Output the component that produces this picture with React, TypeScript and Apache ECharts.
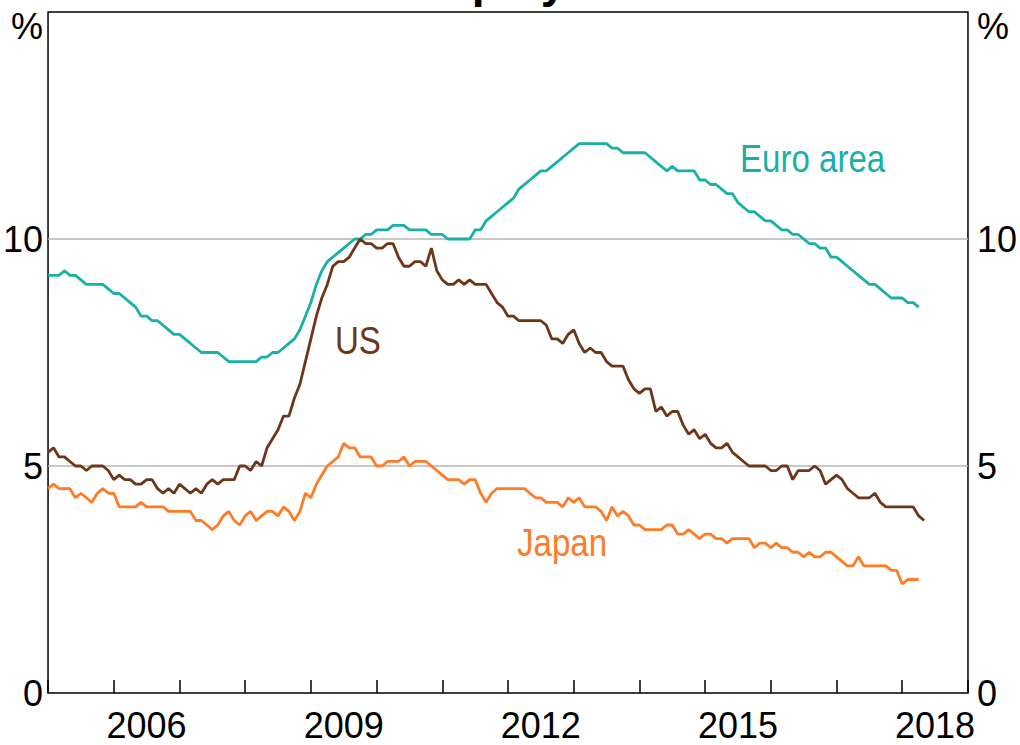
import React, { useEffect, useRef } from 'react';
import * as echarts from 'echarts';

// Monthly data, first observation January 2005
const START_YEAR = 2005;

const euroArea = [
  9.2, 9.2, 9.2, 9.3, 9.2, 9.2, 9.1, 9.0, 9.0, 9.0, 9.0, 8.9,
  8.8, 8.8, 8.7, 8.6, 8.5, 8.3, 8.3, 8.2, 8.2, 8.1, 8.0, 7.9,
  7.9, 7.8, 7.7, 7.6, 7.5, 7.5, 7.5, 7.5, 7.4, 7.3, 7.3, 7.3,
  7.3, 7.3, 7.3, 7.4, 7.4, 7.5, 7.5, 7.6, 7.7, 7.8, 8.0, 8.3,
  8.6, 9.0, 9.3, 9.5, 9.6, 9.7, 9.8, 9.9, 10.0, 10.0, 10.1, 10.1,
  10.2, 10.2, 10.2, 10.3, 10.3, 10.3, 10.2, 10.2, 10.2, 10.2, 10.1, 10.1,
  10.1, 10.0, 10.0, 10.0, 10.0, 10.0, 10.2, 10.2, 10.4, 10.5, 10.6, 10.7,
  10.8, 10.9, 11.1, 11.2, 11.3, 11.4, 11.5, 11.5, 11.6, 11.7, 11.8, 11.9,
  12.0, 12.1, 12.1, 12.1, 12.1, 12.1, 12.1, 12.0, 12.0, 11.9, 11.9, 11.9,
  11.9, 11.9, 11.8, 11.7, 11.6, 11.5, 11.6, 11.5, 11.5, 11.5, 11.5, 11.3,
  11.3, 11.2, 11.2, 11.1, 11.0, 11.0, 10.8, 10.7, 10.6, 10.6, 10.5, 10.4,
  10.4, 10.3, 10.2, 10.2, 10.1, 10.1, 10.0, 9.9, 9.9, 9.8, 9.8, 9.6,
  9.6, 9.5, 9.4, 9.3, 9.2, 9.1, 9.0, 9.0, 8.9, 8.8, 8.7, 8.7,
  8.7, 8.6, 8.6, 8.5,
];

const us = [
  5.3, 5.4, 5.2, 5.2, 5.1, 5.0, 5.0, 4.9, 5.0, 5.0, 5.0, 4.9,
  4.7, 4.8, 4.7, 4.7, 4.6, 4.6, 4.7, 4.7, 4.5, 4.4, 4.5, 4.4,
  4.6, 4.5, 4.4, 4.5, 4.4, 4.6, 4.7, 4.6, 4.7, 4.7, 4.7, 5.0,
  5.0, 4.9, 5.1, 5.0, 5.4, 5.6, 5.8, 6.1, 6.1, 6.5, 6.8, 7.3,
  7.8, 8.3, 8.7, 9.0, 9.4, 9.5, 9.5, 9.6, 9.8, 10.0, 9.9, 9.9,
  9.8, 9.8, 9.9, 9.9, 9.6, 9.4, 9.4, 9.5, 9.5, 9.4, 9.8, 9.3,
  9.1, 9.0, 9.0, 9.1, 9.0, 9.1, 9.0, 9.0, 9.0, 8.8, 8.6, 8.5,
  8.3, 8.3, 8.2, 8.2, 8.2, 8.2, 8.2, 8.1, 7.8, 7.8, 7.7, 7.9,
  8.0, 7.7, 7.5, 7.6, 7.5, 7.5, 7.3, 7.2, 7.2, 7.2, 6.9, 6.7,
  6.6, 6.7, 6.7, 6.2, 6.3, 6.1, 6.2, 6.2, 5.9, 5.7, 5.8, 5.6,
  5.7, 5.5, 5.4, 5.4, 5.5, 5.3, 5.2, 5.1, 5.0, 5.0, 5.0, 5.0,
  4.9, 4.9, 5.0, 5.0, 4.7, 4.9, 4.9, 4.9, 5.0, 4.9, 4.6, 4.7,
  4.8, 4.7, 4.5, 4.4, 4.3, 4.3, 4.3, 4.4, 4.2, 4.1, 4.1, 4.1,
  4.1, 4.1, 4.1, 3.9, 3.8,
];

const japan = [
  4.5, 4.6, 4.5, 4.5, 4.5, 4.3, 4.4, 4.3, 4.2, 4.4, 4.5, 4.4,
  4.4, 4.1, 4.1, 4.1, 4.1, 4.2, 4.1, 4.1, 4.1, 4.1, 4.0, 4.0,
  4.0, 4.0, 4.0, 3.8, 3.8, 3.7, 3.6, 3.7, 3.9, 4.0, 3.8, 3.7,
  3.9, 4.0, 3.8, 3.9, 4.0, 4.0, 3.9, 4.1, 4.0, 3.8, 4.0, 4.4,
  4.3, 4.6, 4.8, 5.0, 5.1, 5.2, 5.5, 5.4, 5.4, 5.2, 5.2, 5.2,
  5.0, 5.0, 5.1, 5.1, 5.1, 5.2, 5.0, 5.1, 5.1, 5.1, 5.0, 4.9,
  4.8, 4.7, 4.7, 4.7, 4.6, 4.7, 4.7, 4.4, 4.2, 4.4, 4.5, 4.5,
  4.5, 4.5, 4.5, 4.5, 4.4, 4.3, 4.3, 4.2, 4.2, 4.2, 4.1, 4.3,
  4.2, 4.3, 4.1, 4.1, 4.1, 4.0, 3.8, 4.1, 3.9, 4.0, 3.9, 3.7,
  3.7, 3.6, 3.6, 3.6, 3.6, 3.7, 3.7, 3.5, 3.5, 3.6, 3.5, 3.4,
  3.5, 3.5, 3.4, 3.4, 3.3, 3.4, 3.4, 3.4, 3.4, 3.2, 3.3, 3.3,
  3.2, 3.3, 3.2, 3.2, 3.1, 3.1, 3.0, 3.1, 3.0, 3.0, 3.1, 3.1,
  3.0, 2.9, 2.8, 2.8, 3.0, 2.8, 2.8, 2.8, 2.8, 2.8, 2.7, 2.7,
  2.4, 2.5, 2.5, 2.5,
];

const xMin = 2005;
const xMax = 2019;
const xLabelYears = [2006, 2009, 2012, 2015, 2018];
const yMin = 0;
const yMax = 15;
const yStep = 5;
const yUnit = '%';

const TEAL = '#17B1A7';
const BROWN = '#6E3619';
const ORANGE = '#FF7B25';
const FONT = "'Liberation Sans', Arial, sans-serif";

const toPoints = (values: number[]) =>
  values.map((v, i) => [START_YEAR + i / 12, v]);

const yLabelFormatter = (v: number) => (v === yMax ? '{p|' + yUnit + '}' : String(v));

export default function App() {
  const ref = useRef<HTMLDivElement>(null);

  useEffect(() => {
    document.body.style.margin = '0';
    if (!ref.current) return;
    const chart = echarts.init(ref.current, null, { renderer: 'svg' });

    const yAxisBase = (position: 'left' | 'right', margin: number, grid: boolean) => ({
      type: 'value',
      position,
      min: yMin,
      max: yMax,
      interval: yStep,
      axisLine: { show: false },
      axisTick: { show: false },
      splitLine: {
        show: grid,
        showMinLine: false,
        showMaxLine: false,
        lineStyle: { color: '#b4b4b4', width: 1.5 },
      },
      axisLabel: {
        margin,
        fontSize: 36,
        fontFamily: FONT,
        color: '#000',
        formatter: yLabelFormatter,
        rich: {
          p: { fontSize: 36, fontFamily: FONT, color: '#000', padding: [28, 0, 0, 0] },
        },
      },
    });

    const option = {
      animation: false,
      grid: {
        left: 48,
        right: 47,
        top: 12,
        bottom: 52,
        show: true,
        borderColor: '#000',
        borderWidth: 1.5,
        backgroundColor: 'transparent',
      },
      xAxis: [
        {
          type: 'value',
          position: 'bottom',
          min: xMin,
          max: xMax,
          interval: 1,
          axisLine: { show: false },
          axisTick: { show: true, inside: true, length: 13, lineStyle: { color: '#000', width: 1.5 } },
          axisLabel: { show: false },
          splitLine: { show: false },
        },
        {
          type: 'value',
          position: 'bottom',
          min: xMin,
          max: xMax,
          interval: 0.5,
          axisLine: { show: false },
          axisTick: { show: false },
          splitLine: { show: false },
          axisLabel: {
            margin: 14,
            fontSize: 36,
            fontFamily: FONT,
            color: '#000',
            formatter: (v: number) => {
              const y = Math.floor(v + 1e-6);
              return Math.abs(v - y - 0.5) < 1e-6 && xLabelYears.includes(y) ? String(y) : '';
            },
          },
        },
      ],
      yAxis: [yAxisBase('left', 5, true), yAxisBase('right', 9, false)],
      series: [
        {
          name: 'Euro area',
          type: 'line',
          xAxisIndex: 0,
          yAxisIndex: 0,
          data: toPoints(euroArea),
          showSymbol: false,
          lineStyle: { color: TEAL, width: 2.8 },
          itemStyle: { color: TEAL },
        },
        {
          name: 'US',
          type: 'line',
          xAxisIndex: 0,
          yAxisIndex: 0,
          data: toPoints(us),
          showSymbol: false,
          lineStyle: { color: BROWN, width: 2.8 },
          itemStyle: { color: BROWN },
        },
        {
          name: 'Japan',
          type: 'line',
          xAxisIndex: 0,
          yAxisIndex: 0,
          data: toPoints(japan),
          showSymbol: false,
          lineStyle: { color: ORANGE, width: 2.8 },
          itemStyle: { color: ORANGE },
        },
      ],
      graphic: [
        {
          type: 'text',
          x: 510,
          y: -19,
          style: {
            text: 'Unemployment',
            fill: '#000',
            fontSize: 46,
            fontWeight: 'bold',
            fontFamily: FONT,
            align: 'center',
            verticalAlign: 'middle',
          },
        },
        {
          type: 'text',
          x: 740,
          y: 159,
          scaleX: 0.87,
          style: { text: 'Euro area', fill: TEAL, fontSize: 38, fontFamily: FONT, align: 'left', verticalAlign: 'middle' },
        },
        {
          type: 'text',
          x: 335,
          y: 341,
          scaleX: 0.87,
          style: { text: 'US', fill: BROWN, fontSize: 38, fontFamily: FONT, align: 'left', verticalAlign: 'middle' },
        },
        {
          type: 'text',
          x: 517,
          y: 543,
          scaleX: 0.87,
          style: { text: 'Japan', fill: ORANGE, fontSize: 38, fontFamily: FONT, align: 'left', verticalAlign: 'middle' },
        },
      ],
    };

    chart.setOption(option as any);
    return () => chart.dispose();
  }, []);

  return <div ref={ref} style={{ width: 1020, height: 745 }} />;
}
